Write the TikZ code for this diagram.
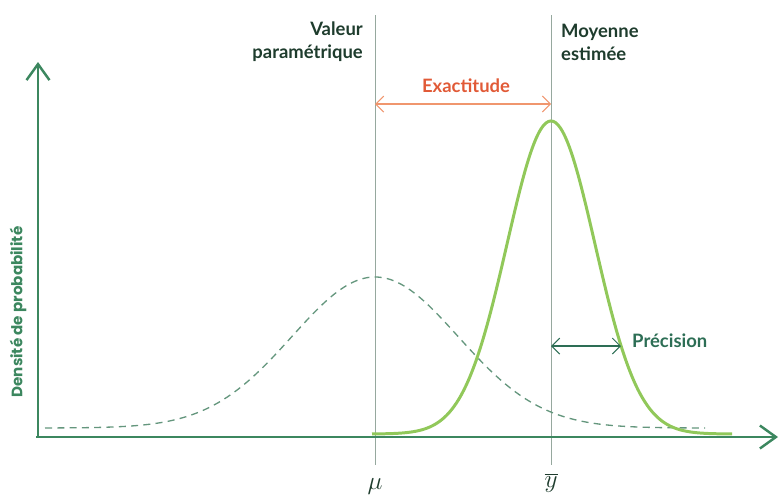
\documentclass[tikz,border=0pt]{standalone}
\usepackage{fontspec}
\setmainfont{Lato}
\newfontfamily\ylabfont{Poppins}
\usepackage{xcolor}
\definecolor{AxisGreen}{RGB}{60,135,95}
\definecolor{DarkText}{RGB}{30,60,45}
\definecolor{GuideGray}{RGB}{150,168,158}
\definecolor{ExactRed}{RGB}{225,90,55}
\definecolor{ExactLight}{RGB}{240,150,110}
\definecolor{PrecTeal}{RGB}{45,110,85}
\definecolor{CurveGreen}{RGB}{145,200,90}
\definecolor{DashGreen}{RGB}{100,150,125}
\usepackage{tikz}
\usetikzlibrary{arrows.meta,positioning}

\begin{document}
\begin{tikzpicture}[x=0.02cm,y=-0.02cm,
  axis/.style={draw=AxisGreen,line width=1.4pt,-{Straight Barb[length=0.32cm,width=0.46cm]}},
  guide/.style={draw=GuideGray,line width=0.5pt},
  lbl/.style={font=\bfseries\fontsize{10.5}{13}\selectfont,text=DarkText},
  symb/.style={font=\fontsize{14}{16}\selectfont,text=DarkText},
  twoway/.style={line width=0.6pt,{Straight Barb[length=1.6mm,width=3.2mm]}-{Straight Barb[length=1.6mm,width=3.2mm]}}]
  \useasboundingbox (0,0) rectangle (780,498);
  \coordinate (O) at (38,437);
  \coordinate (YTip) at (38,62);
  \coordinate (XTip) at (778,437);
  \coordinate (MuTop) at (375,15);
  \coordinate (MuBot) at (375,465);
  \coordinate (YbTop) at (551,15);
  \coordinate (YbBot) at (551,465);
  \draw[guide] (MuTop) -- (MuBot);
  \draw[guide] (YbTop) -- (YbBot);
  \draw[DashGreen,line width=0.75pt,dash pattern=on 4pt off 3pt]
    plot[domain=45:705,samples=150,smooth] (\x,{428-151*exp(-0.5*((\x-375)/83)^2)});
  \draw[CurveGreen,line width=1.7pt]
    plot[domain=372:732,samples=150,smooth] (\x,{434-313*exp(-0.5*((\x-551)/44)^2)});
  \draw[axis] (O) -- (YTip);
  \draw[axis] ([xshift=-1]O) -- (XTip);
  \node[lbl,anchor=east,align=right] (valeur) at (369,42) {Valeur\\paramétrique};
  \node[lbl,anchor=west,align=left] (moyenne) at (555,42) {Moyenne\\estimée};
  \node[symb] (mu) at (375,486) {$\mu$};
  \node[symb] (ybar) at (551,483) {$\overline{y}$};
  \coordinate (ExL) at (375,104);
  \coordinate (ExR) at (551,104);
  \draw[twoway,ExactLight] (ExL) -- (ExR);
  \node[lbl,text=ExactRed] (exact) at (466,86) {Exactitude};
  \coordinate (PrL) at (551,346);
  \coordinate (PrR) at (621,346);
  \draw[twoway,PrecTeal] (PrL) -- (PrR);
  \node[lbl,text=PrecTeal,anchor=west] (prec) at (626,341) {Précision};
  \node[rotate=90,text=AxisGreen,font=\ylabfont\bfseries\fontsize{8.6}{10}\selectfont] (ylab) at (18,312) {Densité de probabilité};
\end{tikzpicture}
\end{document}
